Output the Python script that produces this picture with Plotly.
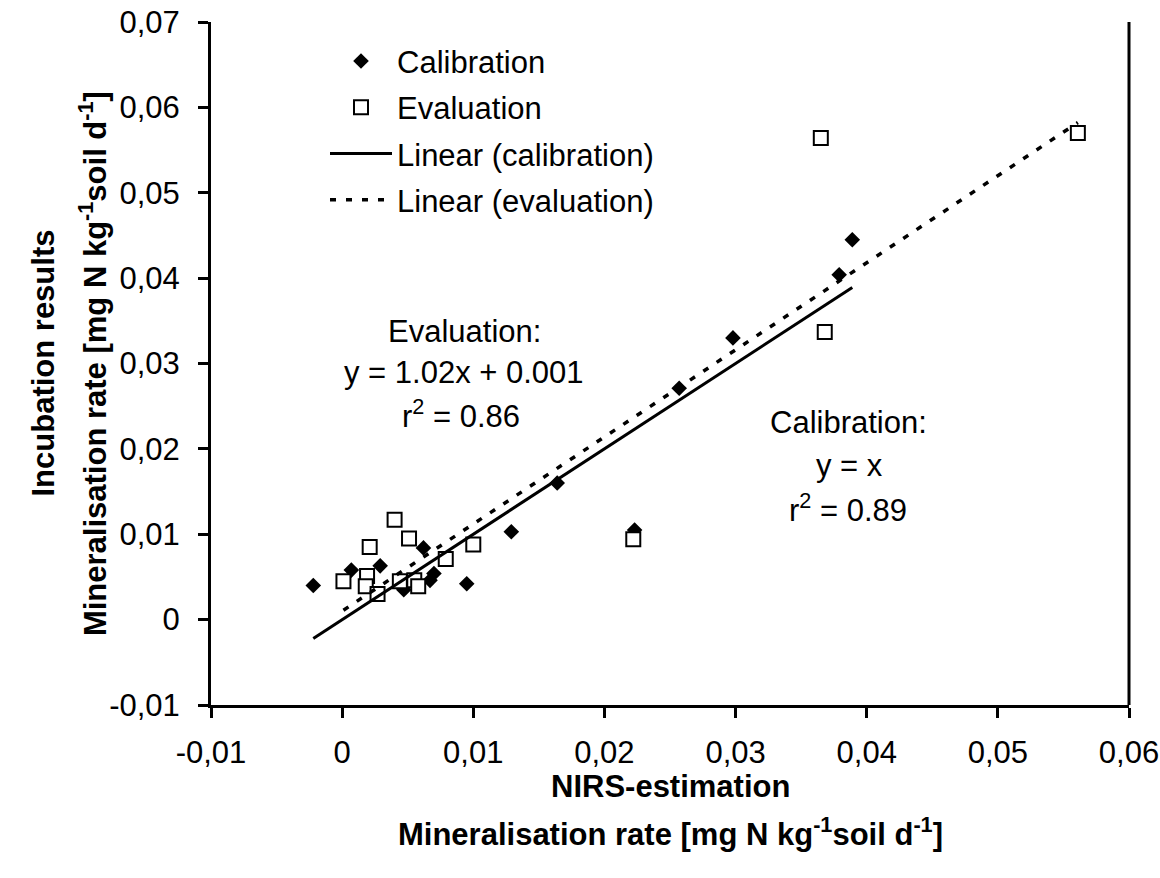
import plotly.graph_objects as go

# NIRS-estimated vs. incubation-measured mineralisation rates [mg N kg-1 soil d-1]
calib_x = [-0.0022, 0.0007, 0.0029, 0.0047, 0.0062, 0.0070, 0.0067, 0.0095,
           0.0129, 0.0223, 0.0164, 0.0257, 0.0298, 0.0379, 0.0389]
calib_y = [0.0040, 0.0058, 0.0063, 0.0035, 0.0084, 0.0054, 0.0046, 0.0042,
           0.0103, 0.0105, 0.0160, 0.0271, 0.0330, 0.0404, 0.0445]

eval_x = [0.0001, 0.0019, 0.0018, 0.0027, 0.0021, 0.0040, 0.0051, 0.0044,
          0.0055, 0.0058, 0.0079, 0.0100, 0.0222, 0.0365, 0.0368, 0.0561]
eval_y = [0.0045, 0.0051, 0.0039, 0.0030, 0.0085, 0.0117, 0.0095, 0.0045,
          0.0046, 0.0039, 0.0071, 0.0088, 0.0094, 0.0564, 0.0337, 0.0570]

# linear trend lines (slope, intercept)
calib_fit = (1.0, 0.0)
eval_fit = (1.02, 0.001)

x_ticks = [-0.01, 0.0, 0.01, 0.02, 0.03, 0.04, 0.05, 0.06]
x_tick_text = ["-0,01", "0", "0,01", "0,02", "0,03", "0,04", "0,05", "0,06"]
y_ticks = [-0.01, 0.0, 0.01, 0.02, 0.03, 0.04, 0.05, 0.06, 0.07]
y_tick_text = ["-0,01", "0", "0,01", "0,02", "0,03", "0,04", "0,05", "0,06", "0,07"]

FONT = "Liberation Sans, Arial, sans-serif"
FS = 31

cx_line = [min(calib_x), max(calib_x)]
cy_line = [calib_fit[0] * v + calib_fit[1] for v in cx_line]
ex_line = [min(eval_x), max(eval_x)]
ey_line = [eval_fit[0] * v + eval_fit[1] for v in ex_line]

fig = go.Figure()
fig.add_trace(go.Scatter(
    x=calib_x, y=calib_y, mode="markers", name="Calibration",
    legendgroup="a",
    marker=dict(symbol="diamond", size=12, color="black", line=dict(width=0)),
))
fig.add_trace(go.Scatter(
    x=eval_x, y=eval_y, mode="markers", name="Evaluation",
    legendgroup="b",
    marker=dict(symbol="square", size=14, color="white",
                line=dict(width=2, color="black")),
))
fig.add_trace(go.Scatter(
    x=cx_line, y=cy_line, mode="lines", name="Linear (calibration)",
    legendgroup="c",
    line=dict(color="black", width=3),
))
fig.add_trace(go.Scatter(
    x=ex_line, y=ey_line, mode="lines", name="Linear (evaluation)",
    legendgroup="d",
    line=dict(color="black", width=3.5, dash="6px,10px"),
))

annotations = [
    dict(x=0.0093, y=0.0338, text="Evaluation:"),
    dict(x=0.0093, y=0.0290, text="y = 1.02x + 0.001"),
    dict(x=0.0091, y=0.0241, text="r<sup>2</sup> = 0.86"),
    dict(x=0.0386, y=0.0231, text="Calibration:"),
    dict(x=0.0387, y=0.0180, text="y = x"),
    dict(x=0.0386, y=0.0131, text="r<sup>2</sup> = 0.89"),
]
for a in annotations:
    a.update(xref="x", yref="y", showarrow=False, xanchor="center",
             yanchor="middle", font=dict(family=FONT, size=FS, color="black"))

# axis titles, two lines each
title_font = dict(family=FONT, size=FS, color="black")
annotations += [
    dict(x=-0.183, y=0.5, xref="paper", yref="paper", textangle=-90,
         xanchor="center", yanchor="middle",
         text="<b>Incubation results</b>", showarrow=False, font=title_font),
    dict(x=-0.129, y=0.5, xref="paper", yref="paper", textangle=-90,
         xanchor="center", yanchor="middle",
         text="<b>Mineralisation rate [mg N kg<sup>-1</sup>soil d<sup>-1</sup>]</b>",
         showarrow=False, font=title_font),
    dict(x=0.5, y=-0.120, xref="paper", yref="paper",
         xanchor="center", yanchor="middle",
         text="<b>NIRS-estimation</b>", showarrow=False, font=title_font),
    dict(x=0.5, y=-0.186, xref="paper", yref="paper",
         xanchor="center", yanchor="middle",
         text="<b>Mineralisation rate [mg N kg<sup>-1</sup>soil d<sup>-1</sup>]</b>",
         showarrow=False, font=title_font),
]

fig.update_layout(
    width=1160, height=878,
    margin=dict(l=211, r=31, t=22, b=173, autoexpand=False),
    paper_bgcolor="white", plot_bgcolor="white",
    font=dict(family=FONT, size=FS, color="black"),
    showlegend=True,
    legend=dict(x=(325 - 211) / 918, y=0.982, xanchor="left", yanchor="top",
                bgcolor="rgba(0,0,0,0)", tracegroupgap=3, itemwidth=62,
                font=dict(family=FONT, size=FS, color="black")),
    annotations=annotations,
    shapes=[dict(type="line", xref="paper", yref="paper", x0=1, x1=1,
                 y0=0, y1=1, line=dict(color="black", width=3))],
)
fig.update_xaxes(
    range=[-0.01, 0.06], tickvals=x_ticks, ticktext=x_tick_text,
    showline=True, linecolor="black", linewidth=3, ticks="outside",
    ticklen=10, tickwidth=2.5, tickcolor="black", showgrid=False,
    zeroline=False, ticklabelstandoff=8, automargin=False,
    tickfont=dict(family=FONT, size=FS, color="black"),
)
fig.update_yaxes(
    range=[-0.01, 0.07], tickvals=y_ticks, ticktext=y_tick_text,
    showline=True, linecolor="black", linewidth=3, ticks="outside",
    ticklen=10, tickwidth=2.5, tickcolor="black", showgrid=False,
    zeroline=False, ticklabelstandoff=12, automargin=False,
    tickfont=dict(family=FONT, size=FS, color="black"),
)

fig.write_html("out.html")
